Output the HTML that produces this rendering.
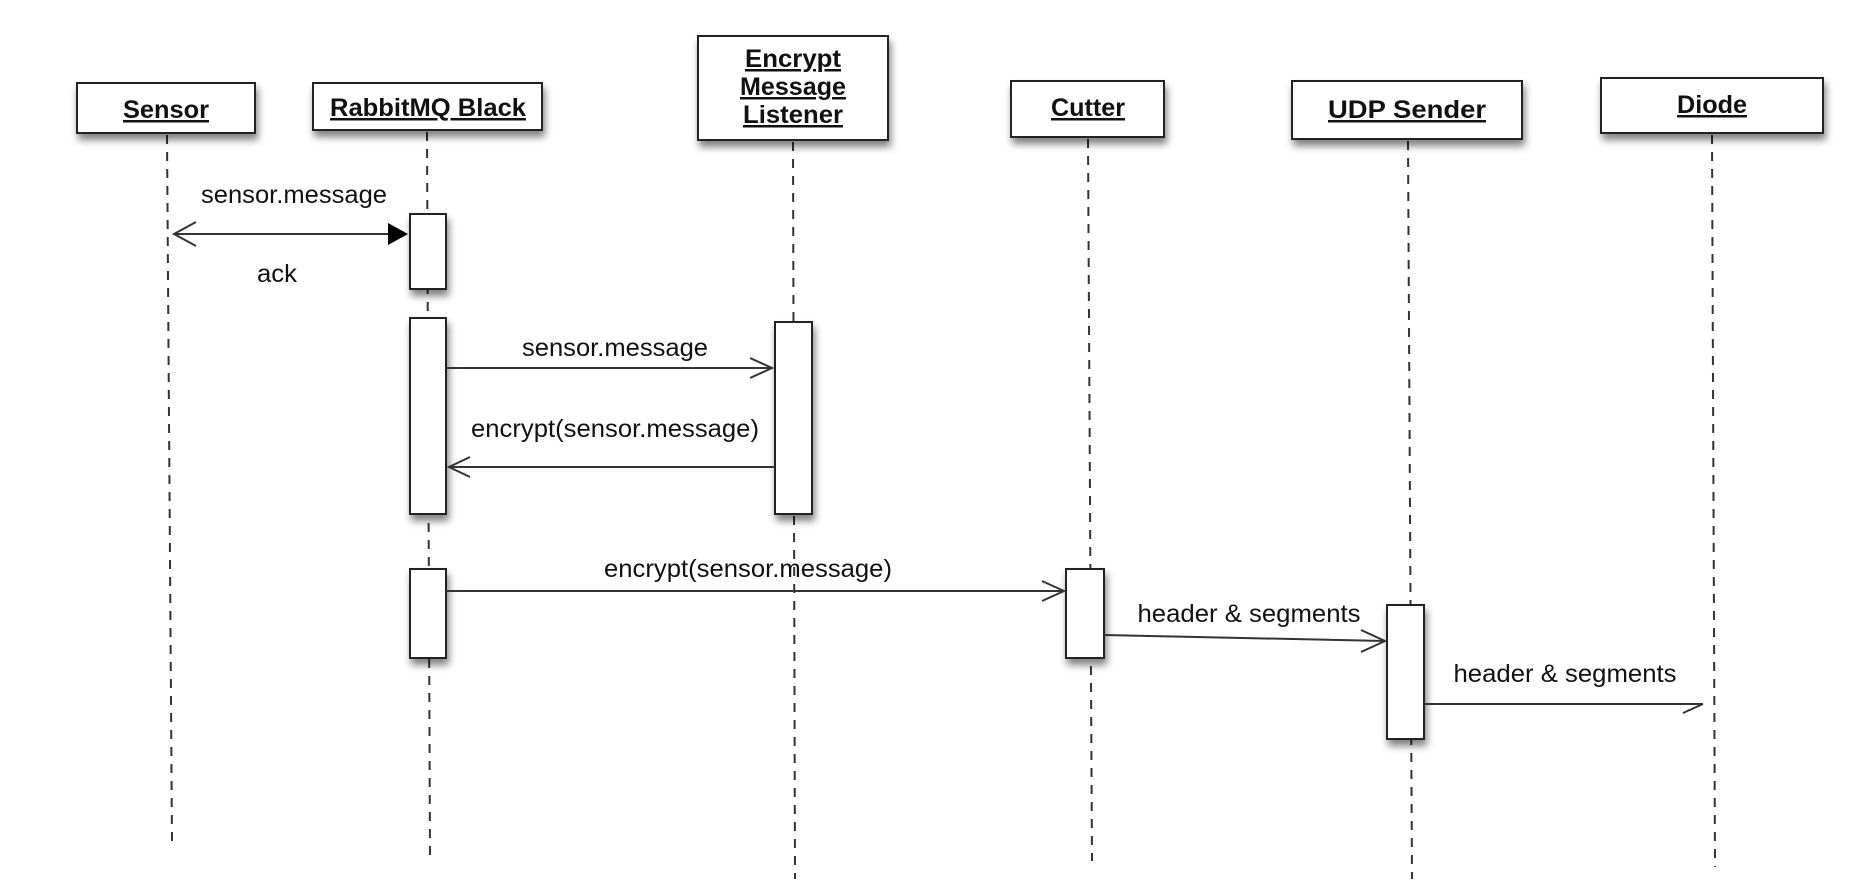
<!DOCTYPE html>
<html><head><meta charset="utf-8"><style>
html,body{margin:0;padding:0;background:#fff;}
svg{display:block;}
text{font-family:"Liberation Sans",Arial,sans-serif;fill:#111;}
.t{font-size:25px;}
.h{font-size:25px;font-weight:bold;text-decoration:underline;}
</style></head><body>
<svg width="1862" height="886" viewBox="0 0 1862 886" xmlns="http://www.w3.org/2000/svg">
<defs>
<filter id="sh" x="-20%" y="-20%" width="140%" height="160%">
<feGaussianBlur in="SourceAlpha" stdDeviation="4"/>
<feOffset dx="2" dy="6" result="b"/>
<feComponentTransfer><feFuncA type="linear" slope="0.5"/></feComponentTransfer>
<feMerge><feMergeNode/><feMergeNode in="SourceGraphic"/></feMerge>
</filter>
</defs>
<g stroke="#333" stroke-width="2" stroke-dasharray="9,8" fill="none">
<line x1="167" y1="135" x2="172" y2="843"/>
<line x1="427" y1="132" x2="430" y2="855"/>
<line x1="793" y1="142" x2="795" y2="879"/>
<line x1="1088" y1="139" x2="1092" y2="861"/>
<line x1="1408" y1="141" x2="1412" y2="879"/>
<line x1="1712" y1="135" x2="1715" y2="867"/>
</g>
<g fill="#fff" stroke="#222" stroke-width="2" filter="url(#sh)">
<rect x="77" y="83" width="178" height="50"/>
<rect x="313" y="83" width="229" height="47"/>
<rect x="698" y="36" width="190" height="104"/>
<rect x="1011" y="81" width="153" height="56"/>
<rect x="1292" y="81" width="230" height="58"/>
<rect x="1601" y="78" width="222" height="55"/>
<rect x="410" y="214" width="36" height="75"/>
<rect x="410" y="318" width="36" height="196"/>
<rect x="775" y="322" width="37" height="192"/>
<rect x="410" y="569" width="36" height="89"/>
<rect x="1066" y="569" width="38" height="89"/>
<rect x="1387" y="605" width="37" height="134"/>
</g>
<g text-anchor="middle">
<text class="h" x="166" y="118" textLength="86" lengthAdjust="spacingAndGlyphs">Sensor</text>
<text class="h" x="428" y="116" textLength="196" lengthAdjust="spacingAndGlyphs">RabbitMQ Black</text>
<text class="h" x="793" y="67" textLength="96" lengthAdjust="spacingAndGlyphs">Encrypt</text>
<text class="h" x="793" y="95" textLength="106" lengthAdjust="spacingAndGlyphs">Message</text>
<text class="h" x="793" y="123" textLength="100" lengthAdjust="spacingAndGlyphs">Listener</text>
<text class="h" x="1088" y="116" textLength="74" lengthAdjust="spacingAndGlyphs">Cutter</text>
<text class="h" x="1407" y="118" textLength="158" lengthAdjust="spacingAndGlyphs">UDP Sender</text>
<text class="h" x="1712" y="113" textLength="70" lengthAdjust="spacingAndGlyphs">Diode</text>
</g>
<g stroke="#333" stroke-width="2" fill="none">
<line x1="175" y1="234" x2="390" y2="234"/>
<polyline points="196,222 174,234 196,246"/>
<line x1="446" y1="368" x2="772" y2="368"/>
<polyline points="750,358 772,368 750,378"/>
<line x1="449" y1="467" x2="775" y2="467"/>
<polyline points="470,457 449,467 470,477"/>
<line x1="446" y1="591" x2="1064" y2="591"/>
<polyline points="1042,581 1064,591 1042,601"/>
<line x1="1104" y1="635" x2="1385" y2="641"/>
<polyline points="1361,630 1385,641 1361,652"/>
<line x1="1424" y1="704" x2="1703" y2="704"/>
<polyline points="1683,713 1703,704"/>
</g>
<polygon points="388,223 408,234 388,245" fill="#000"/>
<g text-anchor="middle">
<text class="t" x="294" y="203" textLength="186" lengthAdjust="spacingAndGlyphs">sensor.message</text>
<text class="t" x="277" y="282" textLength="40" lengthAdjust="spacingAndGlyphs">ack</text>
<text class="t" x="615" y="356" textLength="186" lengthAdjust="spacingAndGlyphs">sensor.message</text>
<text class="t" x="615" y="437" textLength="288" lengthAdjust="spacingAndGlyphs">encrypt(sensor.message)</text>
<text class="t" x="748" y="577" textLength="288" lengthAdjust="spacingAndGlyphs">encrypt(sensor.message)</text>
<text class="t" x="1249" y="622" textLength="223" lengthAdjust="spacingAndGlyphs">header &amp; segments</text>
<text class="t" x="1565" y="682" textLength="223" lengthAdjust="spacingAndGlyphs">header &amp; segments</text>
</g>
</svg>
</body></html>
